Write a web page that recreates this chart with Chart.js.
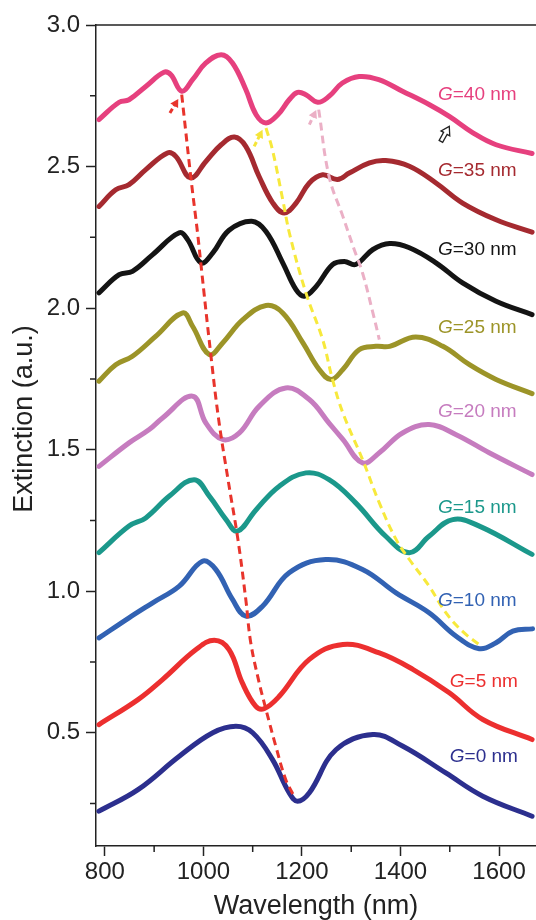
<!DOCTYPE html>
<html>
<head>
<meta charset="utf-8">
<script src="https://cdn.jsdelivr.net/npm/chart.js@4.4.1/dist/chart.umd.min.js"></script>
<style>
  html, body { margin: 0; padding: 0; background: #fff; }
</style>
</head>
<body>
<canvas id="myChart" width="536" height="920"></canvas>
<script>
// extinction spectra, one list of [wavelength nm, extinction] per gap size
const g40 = [[788,2.666],[829,2.727],[849,2.736],[883,2.783],[920,2.833],[934,2.824],[956,2.766],[978,2.807],[1005,2.866],[1036,2.895],[1059,2.866],[1086,2.772],[1107,2.683],[1127,2.654],[1151,2.683],[1174,2.736],[1191,2.762],[1208,2.754],[1232,2.727],[1255,2.748],[1282,2.795],[1316,2.818],[1356,2.807],[1404,2.766],[1458,2.719],[1499,2.677],[1547,2.619],[1594,2.577],[1667,2.546]];
const g35 = [[788,2.359],[822,2.418],[849,2.436],[883,2.489],[927,2.548],[944,2.536],[974,2.460],[1005,2.518],[1036,2.577],[1063,2.604],[1086,2.571],[1113,2.465],[1141,2.371],[1164,2.336],[1188,2.371],[1215,2.442],[1242,2.471],[1272,2.454],[1296,2.477],[1337,2.513],[1370,2.521],[1418,2.501],[1472,2.442],[1526,2.371],[1594,2.312],[1667,2.268]];
const g30 = [[788,2.054],[829,2.118],[856,2.130],[897,2.189],[951,2.266],[968,2.242],[995,2.160],[1019,2.195],[1052,2.275],[1098,2.307],[1127,2.271],[1161,2.160],[1188,2.065],[1205,2.042],[1229,2.077],[1262,2.154],[1286,2.165],[1309,2.154],[1344,2.207],[1378,2.228],[1418,2.213],[1472,2.160],[1526,2.089],[1594,2.024],[1667,1.977]];
const g25 = [[788,1.742],[822,1.800],[856,1.830],[903,1.900],[958,1.983],[978,1.936],[1012,1.836],[1039,1.877],[1080,1.959],[1127,2.009],[1161,1.983],[1202,1.877],[1235,1.783],[1259,1.748],[1283,1.783],[1316,1.853],[1350,1.865],[1378,1.865],[1431,1.898],[1486,1.865],[1540,1.800],[1594,1.748],[1667,1.698]];
const g20 = [[788,1.441],[849,1.524],[890,1.571],[917,1.612],[978,1.689],[1005,1.594],[1039,1.536],[1073,1.559],[1113,1.653],[1167,1.718],[1215,1.677],[1255,1.594],[1283,1.536],[1323,1.453],[1357,1.489],[1404,1.559],[1458,1.589],[1513,1.553],[1580,1.489],[1667,1.412]];
const g15 = [[788,1.136],[849,1.230],[883,1.259],[931,1.336],[981,1.394],[1012,1.336],[1046,1.253],[1069,1.212],[1107,1.288],[1154,1.371],[1208,1.418],[1255,1.394],[1309,1.312],[1370,1.194],[1418,1.136],[1458,1.194],[1506,1.253],[1560,1.230],[1667,1.130]];
const g10 = [[788,0.835],[849,0.906],[897,0.959],[951,1.018],[998,1.106],[1025,1.077],[1059,0.971],[1086,0.912],[1120,0.947],[1174,1.065],[1248,1.112],[1323,1.077],[1391,0.994],[1458,0.924],[1513,0.841],[1560,0.797],[1594,0.818],[1628,0.859],[1668,0.867]];
const g5 = [[788,0.529],[868,0.618],[917,0.688],[985,0.794],[1022,0.827],[1052,0.794],[1079,0.676],[1106,0.594],[1123,0.585],[1154,0.629],[1215,0.759],[1283,0.812],[1357,0.782],[1425,0.724],[1499,0.641],[1567,0.547],[1667,0.476]];
const g0 = [[788,0.223],[868,0.300],[951,0.417],[1019,0.500],[1066,0.523],[1100,0.500],[1140,0.406],[1174,0.288],[1191,0.258],[1215,0.288],[1269,0.440],[1344,0.494],[1404,0.453],[1492,0.358],[1567,0.276],[1667,0.205]];

// guide lines following the dips from one spectrum to the next
const redGuide = [[956,2.754],[960,2.690],[975,2.454],[988,2.267],[995,2.154],[1015,1.836],[1031,1.606],[1050,1.394],[1070,1.183],[1086,0.971],[1096,0.819],[1113,0.678],[1127,0.582],[1147,0.452],[1167,0.335],[1182,0.282]];
const yellowGuide = [[1127,2.636],[1140,2.560],[1161,2.383],[1176,2.254],[1208,2.054],[1242,1.889],[1262,1.748],[1283,1.630],[1323,1.465],[1357,1.312],[1391,1.183],[1418,1.112],[1458,1.018],[1492,0.924],[1526,0.858],[1562,0.808]];
const pinkGuide = [[1234,2.701],[1255,2.465],[1283,2.324],[1306,2.207],[1323,2.124],[1344,1.983],[1357,1.889]];

const gaps = [40, 35, 30, 25, 20, 15, 10, 5, 0];
const spectra = [g40, g35, g30, g25, g20, g15, g10, g5, g0];
const colors = ['#e6407e', '#a52a30', '#141414', '#9c9428', '#c67cbf', '#1b988b', '#3262b3', '#ec2f2f', '#2c2f8e'];

// where each "G=.. nm" label sits (wavelength, extinction of its baseline)
const labelSpots = [[1476,2.736],[1476,2.468],[1476,2.189],[1476,1.913],[1476,1.617],[1476,1.278],[1476,0.947],[1500,0.661],[1500,0.396]];

const xMajor = [800, 1000, 1200, 1400, 1600];
const xMinor = [900, 1100, 1300, 1500];
const yMajor = [0.5, 1.0, 1.5, 2.0, 2.5, 3.0];
const yMinor = [0.25, 0.75, 1.25, 1.75, 2.25, 2.75];

// short arrows: [from, to, colour, hollow]
const arrows = [
  [[932,2.689],[949,2.739],'#e8342c',false],
  [[1103,2.571],[1120,2.630],'#f5e53a',false],
  [[1215,2.648],[1229,2.700],'#ebafc5',false],
  [[1482,2.589],[1499,2.642],'#222',true]
];

const FONT = '"Liberation Sans", Arial, sans-serif';
const toXY = arr => arr.map(p => ({x: p[0], y: p[1]}));

var datasets = spectra.map((s, i) => ({
  data: toXY(s),
  borderColor: colors[i],
  borderWidth: 5,
  borderCapStyle: 'round',
  borderJoinStyle: 'round',
  tension: 0.4,
  pointRadius: 0,
  order: 1
}));

[[redGuide, '#e8342c'], [yellowGuide, '#f7e93c'], [pinkGuide, '#ebb0c6']].forEach(g => {
  datasets.push({
    data: toXY(g[0]),
    borderColor: g[1],
    borderWidth: 3,
    borderDash: [8, 5],
    tension: 0.4,
    pointRadius: 0,
    order: 0
  });
});

function drawArrow(c, x0, y0, x1, y1, color, hollow) {
  var a = Math.atan2(y1 - y0, x1 - x0);
  var len = Math.hypot(x1 - x0, y1 - y0);
  c.save();
  c.translate(x0, y0);
  c.rotate(a);
  if (hollow) {
    var h = 8, sw = 2, hw = 5;
    c.beginPath();
    c.moveTo(0, -sw); c.lineTo(len - h, -sw); c.lineTo(len - h, -hw);
    c.lineTo(len, 0);
    c.lineTo(len - h, hw); c.lineTo(len - h, sw); c.lineTo(0, sw);
    c.closePath();
    c.fillStyle = '#fff';
    c.fill();
    c.strokeStyle = color;
    c.lineWidth = 1.3;
    c.stroke();
  } else {
    c.strokeStyle = color;
    c.lineWidth = 3;
    c.setLineDash([5, 3]);
    c.beginPath();
    c.moveTo(0, 0); c.lineTo(len - 6, 0);
    c.stroke();
    c.fillStyle = color;
    c.beginPath();
    c.moveTo(len, 0); c.lineTo(len - 8, -4.5); c.lineTo(len - 8, 4.5);
    c.closePath();
    c.fill();
  }
  c.restore();
}

const decorations = {
  id: 'decorations',
  afterDraw(chart) {
    var c = chart.ctx, area = chart.chartArea;
    var xs = chart.scales.x, ys = chart.scales.y;
    c.save();
    // top frame line
    c.strokeStyle = '#222';
    c.lineWidth = 1.5;
    c.beginPath();
    c.moveTo(area.left, area.top);
    c.lineTo(area.right, area.top);
    c.stroke();
    // minor ticks
    c.beginPath();
    xMinor.forEach(v => {
      var px = xs.getPixelForValue(v);
      c.moveTo(px, area.bottom); c.lineTo(px, area.bottom + 6);
    });
    yMinor.forEach(v => {
      var py = ys.getPixelForValue(v);
      c.moveTo(area.left - 6, py); c.lineTo(area.left, py);
    });
    c.stroke();

    // curve labels, italic G
    c.textBaseline = 'alphabetic';
    c.textAlign = 'left';
    gaps.forEach((g, i) => {
      var px = xs.getPixelForValue(labelSpots[i][0]);
      var py = ys.getPixelForValue(labelSpots[i][1]);
      c.fillStyle = colors[i];
      c.font = 'italic 19px ' + FONT;
      c.fillText('G', px, py);
      var w = c.measureText('G').width;
      c.font = '19px ' + FONT;
      c.fillText('=' + g + ' nm', px + w, py);
    });

    arrows.forEach(a => {
      drawArrow(c, xs.getPixelForValue(a[0][0]), ys.getPixelForValue(a[0][1]),
        xs.getPixelForValue(a[1][0]), ys.getPixelForValue(a[1][1]), a[2], a[3]);
    });

    // axis titles
    c.fillStyle = '#222';
    c.font = '27px ' + FONT;
    c.textAlign = 'center';
    c.fillText('Wavelength (nm)', (area.left + area.right) / 2, 914);
    c.translate(32, 419);
    c.rotate(-Math.PI / 2);
    c.fillText('Extinction (a.u.)', 0, 0);
    c.restore();
  }
};

new Chart(document.getElementById('myChart'), {
  type: 'line',
  data: { datasets: datasets },
  options: {
    responsive: false,
    animation: false,
    devicePixelRatio: 1,
    layout: { padding: { top: 25, right: 0, left: 0, bottom: 0 } },
    plugins: { legend: { display: false }, tooltip: { enabled: false } },
    scales: {
      x: {
        type: 'linear',
        min: 782,
        max: 1675,
        afterBuildTicks: s => { s.ticks = xMajor.map(v => ({ value: v })); },
        afterFit: s => { s.height = 74; },
        grid: { drawOnChartArea: false, tickLength: 10, tickWidth: 1.5, tickColor: '#222' },
        border: { color: '#222', width: 1.5 },
        ticks: { color: '#222', font: { family: FONT, size: 24 }, padding: 2, maxRotation: 0, autoSkip: false,
          callback: v => String(v) }
      },
      y: {
        type: 'linear',
        min: 0.10,
        max: 3.0,
        afterBuildTicks: s => { s.ticks = yMajor.map(v => ({ value: v })); },
        afterFit: s => { s.width = 96; },
        grid: { drawOnChartArea: false, tickLength: 10, tickWidth: 1.5, tickColor: '#222' },
        border: { color: '#222', width: 1.5 },
        ticks: { color: '#222', font: { family: FONT, size: 24 }, padding: 6,
          callback: v => v.toFixed(1) }
      }
    }
  },
  plugins: [decorations]
});
</script>
</body>
</html>
